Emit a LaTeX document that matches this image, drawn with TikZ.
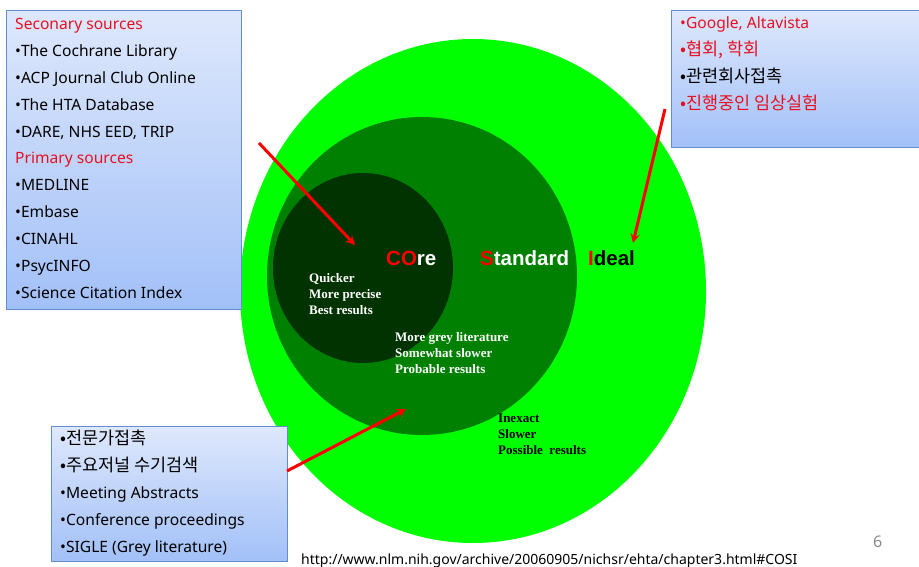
\documentclass[tikz,border=0pt]{standalone}
\usepackage{fontspec}
\setmainfont{Noto Sans}
\newfontfamily\kr{Noto Sans CJK KR}
\newfontfamily\lblfont{Liberation Sans}
\newfontfamily\tmsfont{Liberation Serif}
\definecolor{ideal}{RGB}{0,255,0}
\definecolor{standard}{RGB}{0,128,0}
\definecolor{core}{RGB}{0,51,0}
\definecolor{boxtop}{RGB}{222,232,252}
\definecolor{boxbot}{RGB}{162,192,248}
\definecolor{boxline}{RGB}{98,142,208}
\definecolor{srcred}{RGB}{232,16,32}
\definecolor{pagegray}{RGB}{137,137,137}
\tikzset{
  srcbox/.style={draw=boxline, line width=1pt, top color=boxtop, bottom color=boxbot, inner sep=0, anchor=north west},
  srcline/.style={anchor=base west, inner sep=0, font=\fontsize{15.6}{18}\selectfont},
  krline/.style={anchor=base west, inner sep=0, font=\kr\fontsize{17.5}{20}\selectfont},
  ringlbl/.style={anchor=base west, inner sep=0, font=\lblfont\bfseries\fontsize{20.5}{24}\selectfont},
  ringtxt/.style={anchor=base west, inner sep=0, align=left, font=\tmsfont\bfseries\fontsize{13}{15.7}\selectfont},
  pointer/.style={->, red, line width=3pt}
}
\begin{document}
\begin{tikzpicture}[x=1pt, y=-1pt, >=stealth, line join=round]
		\useasboundingbox (0,0) rectangle (919,567);
		\clip (0,0) rectangle (919,567);
		% rings
		\fill[ideal] (473,291) ellipse [x radius=233pt, y radius=252pt];
		\fill[standard] (422,276) ellipse [x radius=155pt, y radius=159pt];
		\fill[core] (363,268) ellipse [x radius=90pt, y radius=95pt];
		\node[ringlbl] (corelbl) at (386,265) {\textcolor{red}{CO}\textcolor{white}{re}};
		\node[ringlbl] (stdlbl) at (480,265) {\textcolor{red}{S}\textcolor{white}{tandard}};
		\node[ringlbl] (ideallbl) at (588,265) {\textcolor{red}{I}\textcolor{black}{deal}};
		\node[ringtxt, text=white] (coretxt) at (309,314) {Quicker\\More precise\\Best results};
		\node[ringtxt, text=white] (stdtxt) at (395,373) {More grey literature\\Somewhat slower\\Probable results};
		\node[ringtxt, text=black] (idealtxt) at (498,454) {Inexact\\Slower\\Possible\ \ results};
		% source boxes
		\node[srcbox, minimum width=235pt, minimum height=299pt] (secbox) at (6,10) {};
		\node[srcline, text=srcred] (s1) at (15,30) {Seconary sources};
		\node[srcline] (s2) at (15,56.8) {•The Cochrane Library};
		\node[srcline] (s3) at (15,83.6) {•ACP Journal Club Online};
		\node[srcline] (s4) at (15,110.4) {•The HTA Database};
		\node[srcline] (s5) at (15,137.2) {•DARE, NHS EED, TRIP};
		\node[srcline, text=srcred] (s6) at (15,164) {Primary sources};
		\node[srcline] (s7) at (15,190.8) {•MEDLINE};
		\node[srcline] (s8) at (15,217.6) {•Embase};
		\node[srcline] (s9) at (15,244.4) {•CINAHL};
		\node[srcline] (s10) at (15,271.2) {•PsycINFO};
		\node[srcline] (s11) at (15,298) {•Science Citation Index};
		\node[srcbox, minimum width=260pt, minimum height=137pt] (webbox) at (671,10) {};
		\node[srcline, text=srcred] (w1) at (680,29) {•Google, Altavista};
		\node[krline, text=srcred] (w2) at (680,56) {•협회, 학회};
		\node[krline] (w3) at (680,83) {•관련회사접촉};
		\node[krline, text=srcred] (w4) at (680,110) {•진행중인 임상실험};
		\node[srcbox, minimum width=236pt, minimum height=135pt] (othbox) at (51,426) {};
		\node[krline] (o1) at (60,444) {•전문가접촉};
		\node[krline] (o2) at (60,471) {•주요저널 수기검색};
		\node[srcline] (o3) at (60,498) {•Meeting Abstracts};
		\node[srcline] (o4) at (60,525) {•Conference proceedings};
		\node[srcline] (o5) at (60,552) {•SIGLE (Grey literature)};
		% pointers
		\coordinate (secstart) at (259,143);
		\coordinate (coretip) at (355,245);
		\coordinate (webstart) at (665,109);
		\coordinate (idealtip) at (633,243);
		\coordinate (othstart) at (287,471);
		\coordinate (stdtip) at (406,409);
		\draw[pointer] (secstart)--(coretip);
		\draw[pointer] (webstart)--(idealtip);
		\draw[pointer] (othstart)--(stdtip);
		% footer
		\node[anchor=base west, inner sep=0, font=\fontsize{14}{17}\selectfont] (url) at (301,564) {http://www.nlm.nih.gov/archive/20060905/nichsr/ehta/chapter3.html\#COSI};
		\node[anchor=base west, inner sep=0, text=pagegray, font=\fontsize{16}{18}\selectfont] (pgno) at (873,547) {6};
\end{tikzpicture}
\end{document}
